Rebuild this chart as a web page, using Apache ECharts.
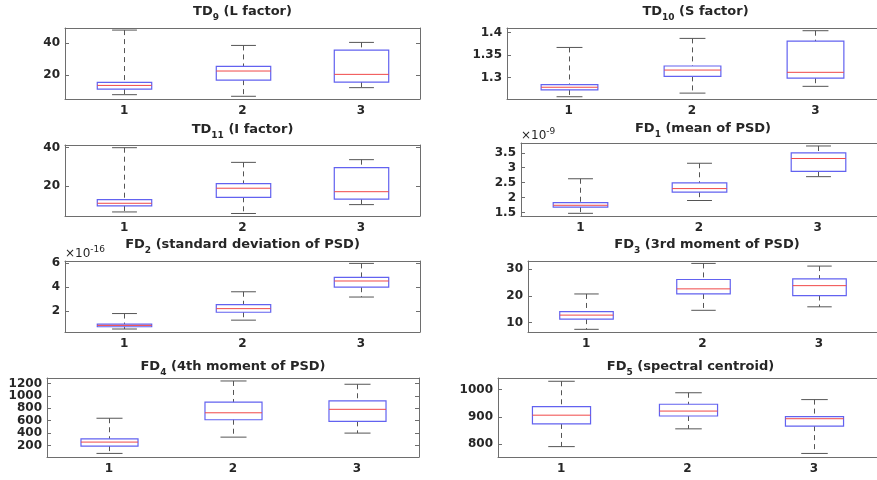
<!DOCTYPE html>
<html>
<head>
<meta charset="utf-8">
<script src="https://cdn.jsdelivr.net/npm/echarts@6/dist/echarts.min.js"></script>
<style>
    html, body { margin: 0; background: #fff; }
    #main { width: 877px; height: 480px; }
</style>
</head>
<body>
<div id="main"></div>
<script>
    var categories = ['1', '2', '3'];

    // box stats per group: [lower whisker, q1, median, q3, upper whisker]
    var td9  = [[7.9, 11.4, 13.7, 15.6, 48.3], [6.9, 17.0, 22.7, 25.6, 38.7], [12.3, 15.8, 20.6, 35.8, 40.6]];
    var td10 = [[1.258, 1.273, 1.279, 1.285, 1.367], [1.266, 1.303, 1.317, 1.326, 1.387], [1.281, 1.299, 1.312, 1.381, 1.404]];
    var td11 = [[6.7, 9.8, 11.2, 13.1, 40.0], [5.9, 14.3, 19.0, 21.4, 32.4], [10.5, 13.3, 17.2, 29.7, 33.8]];
    var fd1  = [[1.47, 1.68, 1.74, 1.83, 2.63], [1.90, 2.18, 2.30, 2.49, 3.15], [2.70, 2.88, 3.31, 3.50, 3.73]];   // x1e-9
    var fd2  = [[0.49, 0.68, 0.79, 0.90, 1.78], [1.23, 1.89, 2.19, 2.52, 3.60], [3.16, 3.98, 4.50, 4.80, 5.97]];   // x1e-16
    var fd3  = [[7.5, 11.3, 12.8, 14.1, 20.7], [14.6, 20.7, 22.6, 26.1, 32.1], [15.9, 20.1, 23.8, 26.3, 31.1]];
    var fd4  = [[72, 190, 255, 307, 640], [335, 616, 728, 900, 1242], [400, 590, 784, 921, 1189]];
    var fd5  = [[791, 874, 906, 937, 1030], [856, 903, 921, 946, 988], [766, 866, 893, 901, 963]];

    // y tick labels
    var td9Ticks  = [20, 40];
    var td10Ticks = [1.3, 1.35, 1.4];
    var td11Ticks = [20, 40];
    var fd1Ticks  = [1.5, 2, 2.5, 3, 3.5];
    var fd2Ticks  = [2, 4, 6];
    var fd3Ticks  = [10, 20, 30];
    var fd4Ticks  = [200, 400, 600, 800, 1000, 1200];
    var fd5Ticks  = [800, 900, 1000];

    var panels = [
        { name: 'TD', sub: '9',  rest: ' (L factor)', data: td9,  ticks: td9Ticks,  min: 5.2,   max: 49.6 },
        { name: 'TD', sub: '10', rest: ' (S factor)', data: td10, ticks: td10Ticks, min: 1.253, max: 1.41 },
        { name: 'TD', sub: '11', rest: ' (I factor)', data: td11, ticks: td11Ticks, min: 4.6,   max: 41.4 },
        { name: 'FD', sub: '1',  rest: ' (mean of PSD)', data: fd1, ticks: fd1Ticks, min: 1.38, max: 3.83, exp: '-9' },
        { name: 'FD', sub: '2',  rest: ' (standard deviation of PSD)', data: fd2, ticks: fd2Ticks, min: 0.24, max: 6.17, exp: '-16' },
        { name: 'FD', sub: '3',  rest: ' (3rd moment of PSD)', data: fd3, ticks: fd3Ticks, min: 6.5, max: 33 },
        { name: 'FD', sub: '4',  rest: ' (4th moment of PSD)', data: fd4, ticks: fd4Ticks, min: 14,  max: 1290 },
        { name: 'FD', sub: '5',  rest: ' (spectral centroid)', data: fd5, ticks: fd5Ticks, min: 753, max: 1042 }
    ];

    // plot boxes: left, top, width, height, title offset above top
    var boxes = [
        [65, 28, 355, 71, 26],  [507, 28, 377, 71, 26],
        [65, 145, 355, 71, 25], [521, 143, 364, 73, 24],
        [65, 261, 355, 71, 26], [528, 261, 358, 71, 26],
        [47, 378, 372, 79, 21], [498, 378, 385, 79, 21]
    ];

    var FONT = 'DejaVu Sans';
    var AX = '#6e6e6e';
    var TXT = '#262626';
    var W = 877;

    function fmt(v) { return String(+(+v).toFixed(6)); }

    function renderBox(params, api) {
        var i = api.value(0);
        var lo = api.coord([i, api.value(1)]);
        var q1 = api.coord([i, api.value(2)]);
        var md = api.coord([i, api.value(3)]);
        var q3 = api.coord([i, api.value(4)]);
        var hi = api.coord([i, api.value(5)]);
        var band = api.size([1, 0])[0];
        var x = Math.round(lo[0]) + 0.5;
        var bw = band * 0.46, cw = band * 0.21;
        var dash = { stroke: '#555', lineWidth: 1, lineDash: [5, 4] };
        var cap = { stroke: '#555', lineWidth: 1 };
        return {
            type: 'group',
            children: [
                { type: 'line', shape: { x1: x, y1: hi[1], x2: x, y2: q3[1] }, style: dash },
                { type: 'line', shape: { x1: x, y1: q1[1], x2: x, y2: lo[1] }, style: dash },
                { type: 'line', shape: { x1: x - cw / 2, y1: hi[1], x2: x + cw / 2, y2: hi[1] }, style: cap },
                { type: 'line', shape: { x1: x - cw / 2, y1: lo[1], x2: x + cw / 2, y2: lo[1] }, style: cap },
                { type: 'rect', shape: { x: x - bw / 2, y: q3[1], width: bw, height: q1[1] - q3[1] },
                  style: { fill: 'none', stroke: '#6262f0', lineWidth: 1.2 } },
                { type: 'line', shape: { x1: x - bw / 2, y1: md[1], x2: x + bw / 2, y2: md[1] },
                  style: { stroke: '#f04848', lineWidth: 1 } }
            ]
        };
    }

    var grid = [], xAxis = [], yAxis = [], series = [], title = [], graphic = [];

    panels.forEach(function (p, k) {
        var b = boxes[k];
        var clipped = b[0] + b[2] > W;
        grid.push({ left: b[0], top: b[1], width: b[2], height: b[3] });

        xAxis.push({
            gridIndex: k, type: 'category', data: categories, position: 'bottom',
            axisLine: { lineStyle: { color: AX } },
            axisTick: { inside: true, length: 4, alignWithLabel: true, lineStyle: { color: AX } },
            axisLabel: { color: TXT, fontFamily: FONT, fontWeight: 'bold', fontSize: 12, margin: 6 }
        });
        xAxis.push({
            gridIndex: k, type: 'category', data: categories, position: 'top',
            axisLine: { lineStyle: { color: AX } },
            axisTick: { inside: true, length: 4, alignWithLabel: true, lineStyle: { color: AX } },
            axisLabel: { show: false }
        });
        yAxis.push({
            gridIndex: k, type: 'value', min: p.min, max: p.max, position: 'left',
            splitLine: { show: false },
            axisLine: { show: true, lineStyle: { color: AX } },
            axisTick: { show: true, inside: true, length: 4, customValues: p.ticks, lineStyle: { color: AX } },
            axisLabel: { customValues: p.ticks, formatter: fmt, color: TXT, fontFamily: FONT,
                         fontWeight: 'bold', fontSize: 12, margin: 5 }
        });
        yAxis.push({
            gridIndex: k, type: 'value', min: p.min, max: p.max, position: 'right',
            show: !clipped,
            splitLine: { show: false },
            axisLine: { show: true, lineStyle: { color: AX } },
            axisTick: { show: true, inside: true, length: 4, customValues: p.ticks, lineStyle: { color: AX } },
            axisLabel: { show: false }
        });

        series.push({
            type: 'custom',
            xAxisIndex: 2 * k, yAxisIndex: 2 * k,
            renderItem: renderBox,
            encode: { x: 0, y: [1, 2, 3, 4, 5] },
            data: p.data.map(function (d, i) { return [i].concat(d); }),
            silent: true
        });

        title.push({
            text: '{m|' + p.name + '}{s|' + p.sub + '}{m|' + p.rest + '}',
            left: b[0] + b[2] / 2, top: b[1] - b[4], textAlign: 'center', padding: 0,
            textStyle: {
                rich: {
                    m: { fontFamily: FONT, fontWeight: 'bold', fontSize: 13, color: TXT, lineHeight: 20, verticalAlign: 'middle' },
                    s: { fontFamily: FONT, fontWeight: 'bold', fontSize: 9, color: TXT, lineHeight: 9, verticalAlign: 'bottom' }
                }
            }
        });

        if (p.exp) {
            graphic.push({
                type: 'text', left: b[0], top: b[1] - 16,
                style: {
                    text: '{a|×10}{b|' + p.exp + '}',
                    rich: {
                        a: { fontFamily: FONT, fontSize: 12, fill: TXT, lineHeight: 15, verticalAlign: 'bottom' },
                        b: { fontFamily: FONT, fontSize: 9, fill: TXT, lineHeight: 9, verticalAlign: 'top' }
                    }
                }
            });
        }
    });

    var chart = echarts.init(document.getElementById('main'));
    chart.setOption({
        animation: false,
        backgroundColor: '#fff',
        title: title,
        grid: grid,
        xAxis: xAxis,
        yAxis: yAxis,
        series: series,
        graphic: graphic
    });
</script>
</body>
</html>
